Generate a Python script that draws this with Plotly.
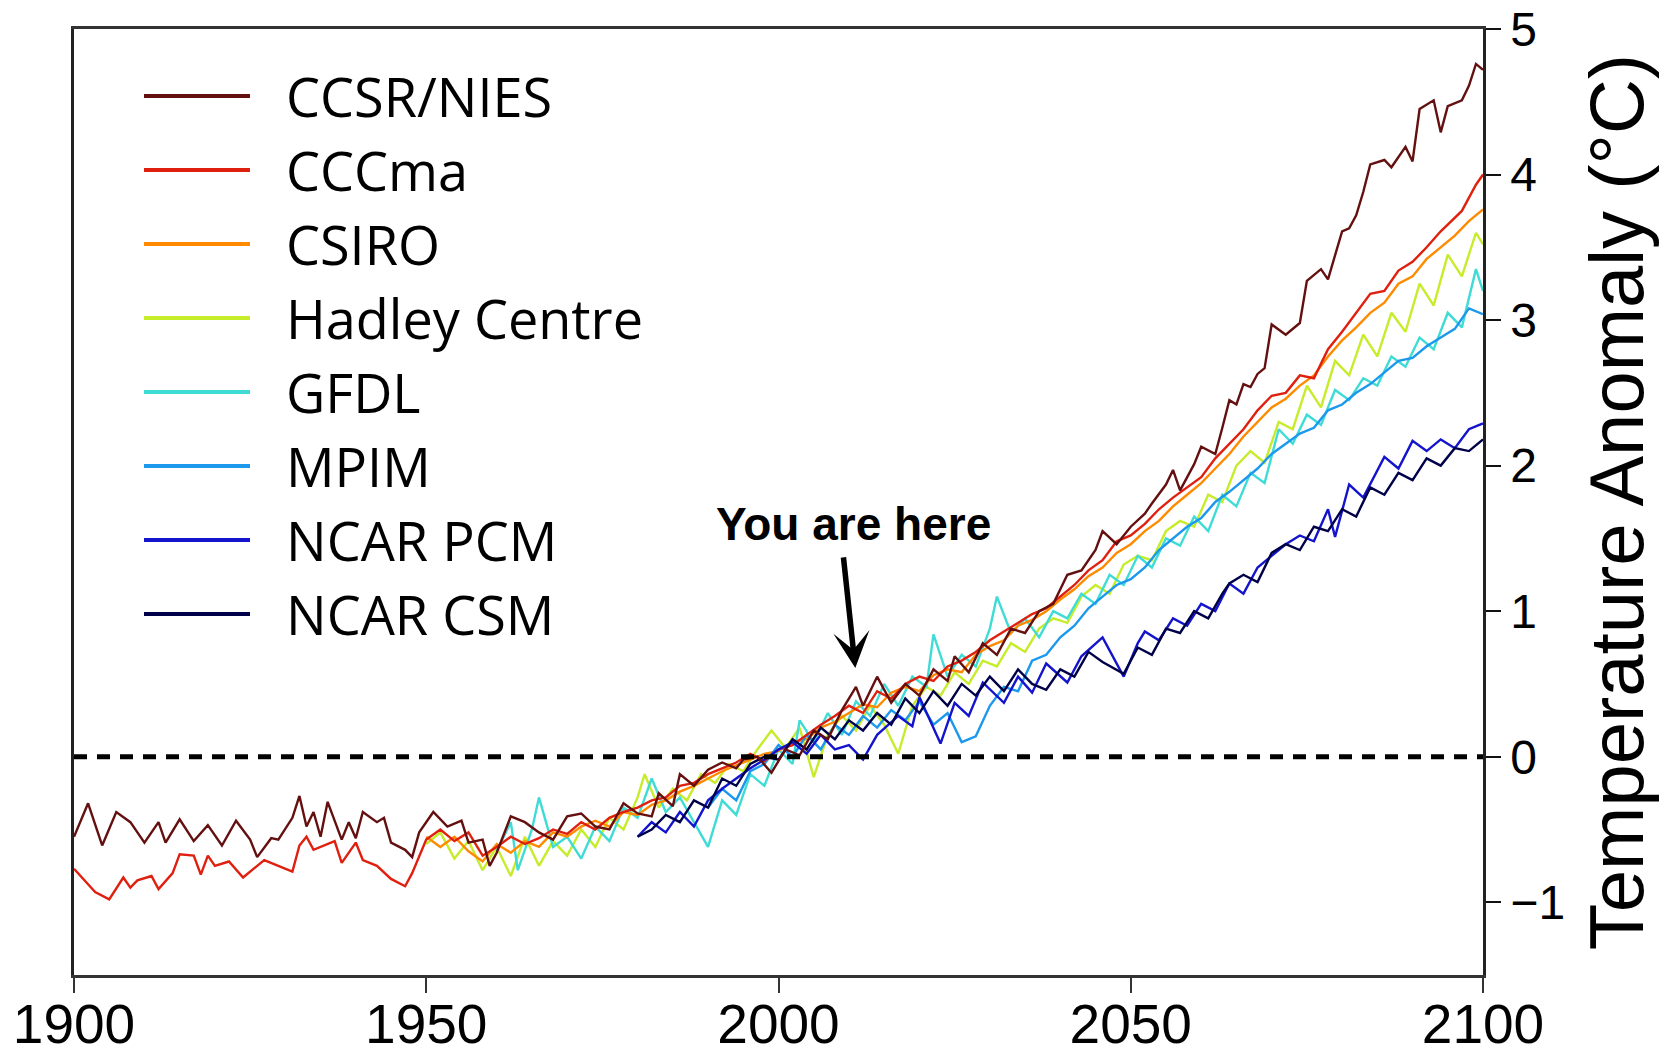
import plotly.graph_objects as go

# ---------------- data ----------------
names = ["CCSR/NIES", "CCCma", "CSIRO", "Hadley Centre", "GFDL", "MPIM", "NCAR PCM", "NCAR CSM"]
colors = ["#641010", "#e0200f", "#ff8a00", "#c6ec2a", "#3fdcd6", "#1c98ec", "#1414cc", "#000048"]

ccsr_years = [1900, 1902, 1904, 1906, 1908, 1910, 1912, 1913, 1915, 1917, 1919, 1921, 1923, 1925, 1926, 1928,
              1929, 1931, 1932, 1933, 1934, 1935, 1936, 1938, 1939, 1940, 1941, 1943, 1944, 1945, 1947, 1948,
              1949, 1951, 1953, 1955, 1956, 1958, 1959, 1960, 1962, 1964, 1966, 1968, 1970, 1972, 1974, 1976,
              1978, 1980, 1982, 1983, 1985, 1986, 1988, 1990, 1992, 1994, 1995, 1997, 1999, 2001, 2003, 2005,
              2007, 2009, 2011, 2012, 2014, 2016, 2018, 2020, 2022, 2024, 2025, 2027, 2029, 2031, 2033, 2035,
              2037, 2039, 2041, 2043, 2045, 2046, 2048, 2050, 2052, 2053, 2055, 2056, 2057, 2059, 2060, 2062,
              2063, 2064, 2065, 2066, 2067, 2068, 2069, 2070, 2072, 2074, 2075, 2077, 2078, 2080, 2081, 2082,
              2083, 2084, 2086, 2087, 2089, 2090, 2091, 2093, 2094, 2095, 2097, 2098, 2099, 2100]
ccsr_vals = [-0.55, -0.32, -0.61, -0.38, -0.45, -0.59, -0.45, -0.59, -0.43, -0.58, -0.47, -0.61, -0.44, -0.57, -0.69, -0.56,
             -0.57, -0.42, -0.27, -0.48, -0.38, -0.55, -0.31, -0.57, -0.45, -0.56, -0.38, -0.45, -0.42, -0.59, -0.64, -0.69,
             -0.52, -0.38, -0.48, -0.44, -0.59, -0.57, -0.75, -0.66, -0.41, -0.45, -0.52, -0.57, -0.41, -0.39, -0.48, -0.50,
             -0.32, -0.39, -0.41, -0.25, -0.34, -0.12, -0.20, -0.09, -0.04, -0.08, -0.02, 0.00, -0.11, 0.05, 0.01, 0.18,
             0.12, 0.32, 0.48, 0.35, 0.55, 0.37, 0.50, 0.42, 0.60, 0.52, 0.69, 0.58, 0.78, 0.70, 0.88, 0.85,
             1.00, 1.05, 1.25, 1.28, 1.42, 1.55, 1.46, 1.58, 1.67, 1.74, 1.87, 1.97, 1.83, 2.01, 2.13, 2.08,
             2.26, 2.45, 2.42, 2.56, 2.54, 2.63, 2.67, 2.97, 2.90, 2.98, 3.27, 3.35, 3.28, 3.61, 3.63, 3.72,
             3.88, 4.07, 4.10, 4.05, 4.19, 4.09, 4.45, 4.51, 4.29, 4.47, 4.51, 4.61, 4.76, 4.72]

cccma_years = [1900, 1903, 1905, 1907, 1908, 1909, 1911, 1912, 1914, 1915, 1917, 1918, 1919, 1920, 1922, 1924,
               1927, 1929, 1931, 1932, 1933, 1934, 1937, 1938, 1940, 1941, 1943, 1945, 1947, 1948, 1949, 1950,
               1952, 1954, 1956, 1958, 1960, 1962, 1964, 1966, 1968, 1970, 1972, 1974, 1976, 1978, 1980, 1982,
               1984, 1986, 1988, 1990, 1992, 1994, 1996, 1998, 2000, 2002, 2004, 2006, 2008, 2010, 2012, 2014,
               2016, 2018, 2020, 2022, 2024, 2026, 2028, 2030, 2032, 2034, 2036, 2038, 2040, 2042, 2044, 2046,
               2048, 2050, 2052, 2054, 2056, 2058, 2060, 2062, 2064, 2066, 2068, 2070, 2072, 2074, 2076, 2078,
               2080, 2082, 2084, 2086, 2088, 2090, 2092, 2094, 2096, 2097, 2099, 2100]
cccma_vals = [-0.77, -0.93, -0.98, -0.83, -0.90, -0.85, -0.82, -0.91, -0.80, -0.67, -0.68, -0.81, -0.68, -0.75, -0.72, -0.83,
              -0.71, -0.75, -0.79, -0.61, -0.55, -0.64, -0.58, -0.73, -0.59, -0.71, -0.75, -0.84, -0.89, -0.80, -0.68, -0.57,
              -0.50, -0.58, -0.52, -0.68, -0.62, -0.55, -0.60, -0.56, -0.50, -0.53, -0.45, -0.50, -0.42, -0.38, -0.35, -0.30,
              -0.28, -0.20, -0.18, -0.12, -0.08, -0.04, 0.02, -0.03, 0.05, 0.08, 0.15, 0.22, 0.28, 0.35, 0.30, 0.45,
              0.40, 0.50, 0.55, 0.52, 0.62, 0.66, 0.72, 0.80, 0.86, 0.92, 0.98, 1.02, 1.10, 1.18, 1.28, 1.35,
              1.48, 1.52, 1.60, 1.70, 1.78, 1.85, 1.92, 2.05, 2.15, 2.25, 2.38, 2.48, 2.50, 2.62, 2.60, 2.80,
              2.92, 3.05, 3.18, 3.20, 3.34, 3.40, 3.50, 3.61, 3.70, 3.75, 3.93, 4.00]

csiro_years = list(range(1950, 2101, 2))
csiro_vals = [-0.55, -0.62, -0.55, -0.65, -0.72, -0.60, -0.66, -0.58, -0.62, -0.52, -0.55, -0.48, -0.44, -0.48, -0.38, -0.40,
              -0.33, -0.30, -0.24, -0.20, -0.15, -0.10, -0.06, -0.02, 0.02, 0.04, 0.10, 0.12, 0.20, 0.24, 0.30, 0.36,
              0.34, 0.44, 0.48, 0.45, 0.56, 0.60, 0.58, 0.70, 0.76, 0.80, 0.90, 0.94, 1.00, 1.08, 1.15, 1.24,
              1.30, 1.40, 1.46, 1.55, 1.62, 1.72, 1.80, 1.88, 1.98, 2.08, 2.20, 2.30, 2.40, 2.46, 2.55, 2.62,
              2.75, 2.86, 2.95, 3.05, 3.12, 3.25, 3.30, 3.42, 3.50, 3.58, 3.68, 3.76]

hadley_years = [1950, 1952, 1954, 1956, 1958, 1960, 1962, 1964, 1966, 1968, 1970, 1972, 1974, 1976, 1978, 1980,
                1981, 1983, 1985, 1987, 1989, 1991, 1993, 1995, 1997, 1999, 2001, 2003, 2005, 2007, 2009, 2011,
                2013, 2015, 2017, 2019, 2021, 2023, 2025, 2027, 2029, 2031, 2033, 2035, 2037, 2039, 2041, 2043,
                2045, 2047, 2049, 2051, 2053, 2055, 2057, 2059, 2061, 2063, 2065, 2067, 2069, 2071, 2073, 2075,
                2077, 2079, 2081, 2083, 2085, 2087, 2089, 2091, 2093, 2095, 2097, 2099, 2100]
hadley_vals = [-0.60, -0.52, -0.70, -0.58, -0.78, -0.62, -0.82, -0.55, -0.75, -0.58, -0.68, -0.50, -0.62, -0.42, -0.50, -0.28,
               -0.12, -0.35, -0.22, -0.30, -0.12, -0.18, -0.05, -0.10, 0.05, 0.18, 0.06, 0.20, -0.14, 0.15, 0.28, 0.18,
               0.35, 0.22, 0.02, 0.35, 0.48, 0.42, 0.58, 0.50, 0.66, 0.62, 0.78, 0.72, 0.88, 0.95, 0.92, 1.10,
               1.18, 1.12, 1.32, 1.38, 1.35, 1.55, 1.62, 1.58, 1.80, 1.75, 2.00, 2.10, 2.02, 2.30, 2.25, 2.55,
               2.40, 2.72, 2.62, 2.90, 2.75, 3.05, 2.92, 3.25, 3.10, 3.45, 3.30, 3.60, 3.52]

gfdl_years = [1960, 1962, 1963, 1965, 1966, 1968, 1970, 1972, 1974, 1976, 1978, 1980, 1982, 1984, 1986, 1988,
              1990, 1992, 1994, 1996, 1998, 2000, 2002, 2003, 2005, 2007, 2009, 2011, 2013, 2015, 2017, 2019,
              2021, 2022, 2024, 2026, 2028, 2030, 2031, 2033, 2035, 2037, 2039, 2041, 2043, 2045, 2047, 2049,
              2051, 2053, 2055, 2057, 2059, 2061, 2063, 2065, 2067, 2069, 2071, 2073, 2075, 2077, 2079, 2081,
              2083, 2085, 2087, 2089, 2091, 2093, 2095, 2097, 2099, 2100]
gfdl_vals = [-0.65, -0.45, -0.78, -0.50, -0.28, -0.62, -0.55, -0.70, -0.48, -0.58, -0.35, -0.42, -0.15, -0.38, -0.28, -0.45,
             -0.62, -0.30, -0.40, -0.12, -0.20, 0.05, -0.05, 0.25, 0.10, 0.30, 0.15, 0.38, 0.28, 0.50, 0.35, 0.55,
             0.48, 0.84, 0.55, 0.70, 0.62, 0.88, 1.10, 0.85, 0.95, 0.82, 1.00, 0.95, 1.12, 1.05, 1.25, 1.18,
             1.38, 1.30, 1.50, 1.45, 1.65, 1.55, 1.80, 1.72, 1.95, 1.88, 2.25, 2.15, 2.35, 2.28, 2.52, 2.45,
             2.60, 2.55, 2.75, 2.68, 2.88, 2.80, 3.05, 2.95, 3.35, 3.20]

mpim_years = list(range(1990, 2101, 2))
mpim_vals = [-0.35, -0.22, -0.30, -0.10, -0.05, 0.08, 0.00, 0.15, 0.05, 0.22, 0.15, 0.28, 0.20, 0.32, 0.25, 0.38,
             0.22, 0.30, 0.10, 0.14, 0.35, 0.48, 0.45, 0.66, 0.70, 0.82, 0.90, 1.02, 1.10, 1.18, 1.22, 1.30,
             1.42, 1.50, 1.58, 1.64, 1.75, 1.82, 1.90, 1.98, 2.08, 2.15, 2.22, 2.26, 2.38, 2.42, 2.50, 2.56,
             2.64, 2.72, 2.74, 2.82, 2.88, 2.94, 3.08, 3.04]

pcm_years = [1980, 1982, 1984, 1986, 1988, 1990, 1992, 1994, 1996, 1998, 2000, 2002, 2004, 2006, 2008, 2010,
             2012, 2014, 2017, 2019, 2020, 2023, 2025, 2027, 2029, 2032, 2034, 2036, 2038, 2041, 2043, 2046,
             2049, 2051, 2052, 2054, 2056, 2058, 2060, 2062, 2064, 2066, 2068, 2070, 2072, 2074, 2076, 2078,
             2079, 2081, 2083, 2086, 2088, 2090, 2092, 2094, 2096, 2098, 2100]
pcm_vals = [-0.55, -0.45, -0.52, -0.38, -0.48, -0.30, -0.22, -0.15, -0.08, -0.02, 0.05, 0.10, 0.02, 0.15, 0.05, 0.08,
            -0.02, 0.15, 0.28, 0.21, 0.41, 0.09, 0.37, 0.28, 0.51, 0.37, 0.55, 0.44, 0.64, 0.51, 0.69, 0.82,
            0.55, 0.78, 0.86, 0.80, 0.95, 0.90, 1.05, 1.00, 1.19, 1.12, 1.30, 1.38, 1.46, 1.52, 1.48, 1.70,
            1.51, 1.87, 1.78, 2.06, 1.98, 2.17, 2.10, 2.18, 2.12, 2.25, 2.29]

csm_years = [1980, 1982, 1984, 1986, 1988, 1990, 1992, 1994, 1996, 1998, 2000, 2002, 2004, 2006, 2008, 2010,
             2012, 2014, 2016, 2018, 2020, 2022, 2024, 2026, 2028, 2030, 2032, 2034, 2036, 2038, 2040, 2042,
             2044, 2046, 2049, 2051, 2053, 2055, 2057, 2059, 2061, 2063, 2064, 2066, 2068, 2070, 2072, 2074,
             2076, 2078, 2080, 2082, 2084, 2086, 2088, 2090, 2092, 2094, 2096, 2098, 2100]
csm_vals = [-0.55, -0.50, -0.40, -0.45, -0.30, -0.35, -0.15, -0.20, -0.05, 0.00, -0.02, 0.12, 0.05, 0.20, 0.12, 0.25,
            0.18, 0.30, 0.22, 0.40, 0.30, 0.45, 0.35, 0.50, 0.42, 0.55, 0.45, 0.60, 0.50, 0.46, 0.60, 0.55,
            0.72, 0.65, 0.57, 0.75, 0.70, 0.88, 0.85, 1.00, 0.95, 1.12, 1.19, 1.25, 1.20, 1.40, 1.46, 1.42,
            1.58, 1.55, 1.70, 1.65, 1.85, 1.80, 1.95, 1.90, 2.05, 2.00, 2.12, 2.10, 2.18]

series_years = [ccsr_years, cccma_years, csiro_years, hadley_years, gfdl_years, mpim_years, pcm_years, csm_years]
series_vals = [ccsr_vals, cccma_vals, csiro_vals, hadley_vals, gfdl_vals, mpim_vals, pcm_vals, csm_vals]

x_ticks = [1900, 1950, 2000, 2050, 2100]
y_ticks = [-1, 0, 1, 2, 3, 4, 5]
baseline_x = [1900, 2100]
baseline_y = [0, 0]

# ---------------- figure ----------------
fig = go.Figure()

# draw order: lighter colours first, dark ones on top
draw_order = [3, 4, 2, 5, 1, 6, 7, 0]
for i in draw_order:
    fig.add_trace(go.Scatter(
        x=series_years[i], y=series_vals[i], mode="lines", name=names[i],
        line=dict(color=colors[i], width=2.4), showlegend=False, legendgroup=names[i]))

fig.add_trace(go.Scatter(x=baseline_x, y=baseline_y, mode="lines", showlegend=False,
                         line=dict(color="black", width=5, dash="13px,10px"), hoverinfo="skip"))

W, H = 1669, 1055
ML, MR, MT, MB = 74, 186, 29, 80
PW, PH = W - ML - MR, H - MT - MB

def px2paper(px, py):
    return (px - ML) / PW, (H - MB - py) / PH

# manual legend (line samples + labels) built from names / colors
shapes = []
annotations = []
for i, (nm, col) in enumerate(zip(names, colors)):
    row_y = 96 + 74 * i
    x0, yy = px2paper(144, row_y)
    x1, _ = px2paper(250, row_y)
    xt, _ = px2paper(285, row_y)
    shapes.append(dict(type="line", xref="paper", yref="paper", x0=x0, x1=x1, y0=yy, y1=yy,
                       line=dict(color=col, width=4)))
    annotations.append(dict(xref="paper", yref="paper", x=xt, y=yy, xanchor="left", yanchor="middle",
                            text=nm, showarrow=False, borderpad=0,
                            font=dict(family="Open Sans", size=54, color="black")))

# "You are here" arrow and label
annotations.append(dict(x=2010.9, y=0.61, xref="x", yref="y", text="", showarrow=True,
                        ax=-12, ay=-112, arrowhead=3, arrowsize=1.1, arrowwidth=5.5, arrowcolor="black"))
annotations.append(dict(x=2010.6, y=1.60, xref="x", yref="y", text="<b>You are here</b>", showarrow=False,
                        xanchor="center", yanchor="middle",
                        font=dict(family="Liberation Sans, Arial", size=46, color="black")))

fig.update_layout(
    width=W, height=H,
    margin=dict(l=ML, r=MR, t=MT, b=MB, autoexpand=False),
    paper_bgcolor="white", plot_bgcolor="white",
    showlegend=False,
    shapes=shapes, annotations=annotations,
    xaxis=dict(range=[1900, 2100], tickvals=x_ticks, ticks="outside", ticklen=15, tickwidth=2,
               tickcolor="#333", showline=True, linewidth=2.5, linecolor="#333", mirror=True,
               showgrid=False, zeroline=False, automargin=False, ticklabelstandoff=-16,
               tickfont=dict(family="Liberation Sans, Arial", size=55, color="black")),
    yaxis=dict(range=[-1.5, 5], tickvals=y_ticks, side="right", ticks="outside", ticklen=15, tickwidth=2,
               tickcolor="#111", showline=True, linewidth=2.5, linecolor="#222", mirror=True,
               showgrid=False, zeroline=False, automargin=False,
               tickfont=dict(family="Liberation Sans, Arial", size=48, color="black"),
               title=dict(text="Temperature Anomaly (°C)", standoff=26,
                          font=dict(family="Liberation Sans, Arial", size=76, color="black"))),
)

fig.write_html("out.html")
